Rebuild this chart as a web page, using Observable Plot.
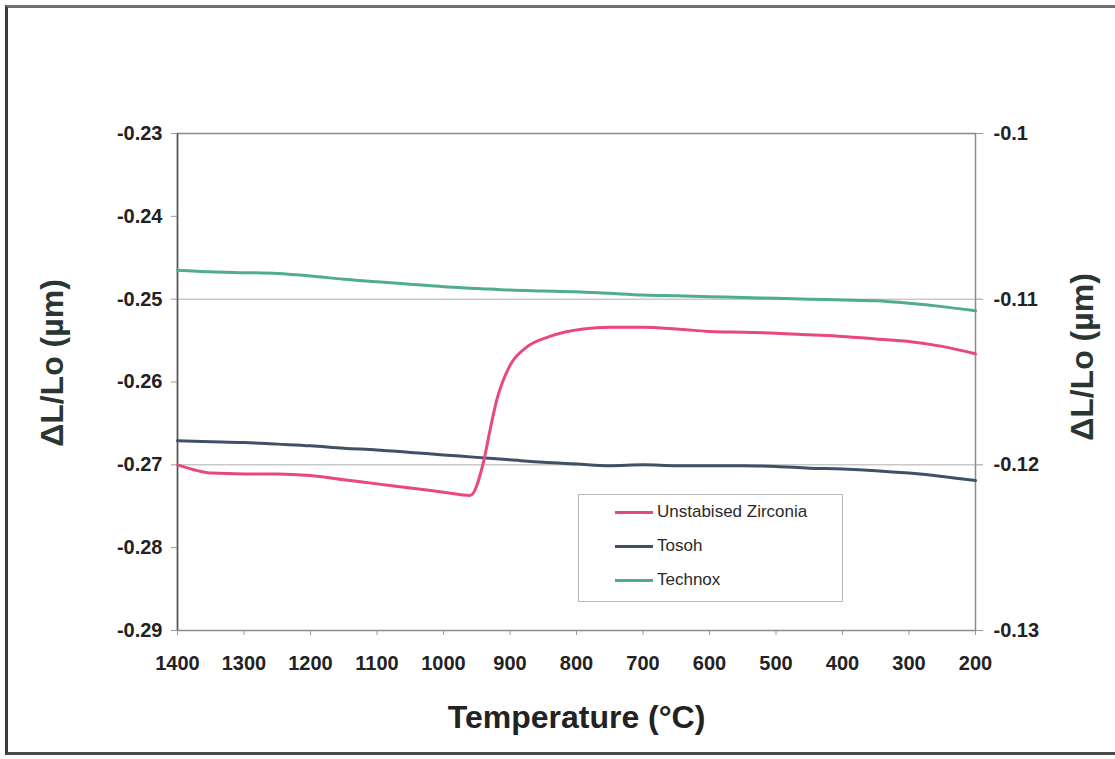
<!DOCTYPE html>
<html>
<head>
<meta charset="utf-8">
<script src="https://cdn.jsdelivr.net/npm/d3@7"></script>
<script src="https://cdn.jsdelivr.net/npm/@observablehq/plot@0.6"></script>
<style>
  html, body { margin: 0; padding: 0; background: #fff; }
  #wrap { position: relative; width: 1115px; height: 759px; overflow: hidden; font-family: "Liberation Sans", Arial, sans-serif; }
  #frame { position: absolute; left: 5px; top: 5px; width: 1120px; height: 750px; border-left: 3px solid #3a3a3a; border-top: 3px solid #6b7278; border-bottom: 3px solid #4a4a4a; box-sizing: border-box; pointer-events: none; }
  #chart { position: absolute; left: 0; top: 0; }
  #legend { position: absolute; left: 578px; top: 494px; width: 265px; height: 108px; border: 1px solid #b8b8b8; box-sizing: border-box; background: #fff; }
  .item { position: absolute; left: 36px; height: 20px; display: flex; align-items: center; font-size: 17px; color: #2a2a2a; }
  .swatch { width: 38px; height: 3px; margin-right: 4px; }
</style>
</head>
<body>
<div id="wrap">
  <div id="chart"></div>
  <div id="legend"></div>
  <div id="frame"></div>
</div>
<script>
// Temperatures (°C) for Tosoh and Technox
const temps = [1400,1350,1300,1250,1200,1150,1100,1050,1000,950,900,850,800,750,700,650,600,550,500,450,400,350,300,250,200];
const tosoh = [-0.2671,-0.2672,-0.2673,-0.2675,-0.2677,-0.2680,-0.2682,-0.2685,-0.2688,-0.2691,-0.2694,-0.2697,-0.2699,-0.2701,-0.2700,-0.2701,-0.2701,-0.2701,-0.2702,-0.2704,-0.2705,-0.2707,-0.2710,-0.2714,-0.2719];
const technox = [-0.2465,-0.2467,-0.2468,-0.2469,-0.2472,-0.2476,-0.2479,-0.2482,-0.2485,-0.2487,-0.2489,-0.2490,-0.2491,-0.2493,-0.2495,-0.2496,-0.2497,-0.2498,-0.2499,-0.2500,-0.2501,-0.2502,-0.2505,-0.2509,-0.2514];
// Unstabilised zirconia
const zirconiaTemps = [1400,1370,1350,1300,1250,1200,1150,1100,1050,1000,960,940,930,920,900,875,840,790,750,700,650,600,550,500,450,400,350,300,250,200];
const zirconia = [-0.2700,-0.2707,-0.2710,-0.2711,-0.2711,-0.2713,-0.2718,-0.2723,-0.2728,-0.2733,-0.2737,-0.2697,-0.2658,-0.2622,-0.2580,-0.2558,-0.2545,-0.2536,-0.2534,-0.2534,-0.2536,-0.2539,-0.2540,-0.2541,-0.2543,-0.2545,-0.2548,-0.2551,-0.2557,-0.2566];

const seriesNames = ["Unstabised Zirconia", "Tosoh", "Technox"];
const seriesColors = ["#e8487e", "#3f5068", "#4fae89"];

const xTicks = [1400,1300,1200,1100,1000,900,800,700,600,500,400,300,200];
const leftTicks = [-0.23,-0.24,-0.25,-0.26,-0.27,-0.28,-0.29];
const rightTicks = [-0.1,-0.11,-0.12,-0.13];
const gridRight = [-0.11,-0.12];

const xLabel = "Temperature (°C)";
const yLabel = "ΔL/Lo (µm)";

// right axis maps linearly onto left axis: -0.10 -> -0.23, -0.13 -> -0.29
const toLeft = r => -0.23 + (r + 0.1) * 2;
const rightMap = new Map(rightTicks.map(r => [toLeft(r).toFixed(4), String(r)]));

const rows = (ts, vs) => ts.map((t, i) => ({t, v: vs[i]}));
const dataZ = rows(zirconiaTemps, zirconia);
const dataTo = rows(temps, tosoh);
const dataTe = rows(temps, technox);

const fontFamily = "Liberation Sans, Arial, sans-serif";

const chart = Plot.plot({
  width: 1115,
  height: 759,
  marginLeft: 177,
  marginRight: 140,
  marginTop: 133,
  marginBottom: 129,
  style: {fontFamily, background: "transparent", overflow: "visible"},
  x: {domain: [1400, 200]},
  y: {domain: [-0.29, -0.23]},
  marks: [
    Plot.ruleY(gridRight.map(toLeft), {stroke: "#c9c9c9", strokeWidth: 1.5}),
    Plot.frame({stroke: "#8a8a8a", strokeWidth: 1.5}),
    Plot.ruleX([1400], {stroke: "#555", strokeWidth: 1.5}),
    Plot.line(dataTe, {x: "t", y: "v", stroke: seriesColors[2], strokeWidth: 3, curve: "monotone-x"}),
    Plot.line(dataTo, {x: "t", y: "v", stroke: seriesColors[1], strokeWidth: 3, curve: "monotone-x"}),
    Plot.line(dataZ, {x: "t", y: "v", stroke: seriesColors[0], strokeWidth: 3, curve: "monotone-x"}),
    Plot.axisY(leftTicks, {anchor: "left", tickSize: 6, tickPadding: 9, tickFormat: d => String(d), fontSize: 20, fontWeight: "bold", stroke: "#999", fill: "#222", label: null}),
    Plot.axisY(rightTicks.map(toLeft), {anchor: "right", tickSize: 7, tickPadding: 11, tickFormat: d => rightMap.get(d.toFixed(4)), fontSize: 20, fontWeight: "bold", stroke: "#999", fill: "#222", label: null}),
    Plot.axisX(xTicks, {anchor: "bottom", tickSize: 5, tickPadding: 20, tickFormat: d => String(d), fontSize: 20, fontWeight: "bold", stroke: "#999", fill: "#222", label: null}),
    Plot.text([yLabel], {frameAnchor: "left", textAnchor: "middle", rotate: -90, dx: -125, dy: -19, fontSize: 32, fontWeight: "bold", fill: "#2b3631"}),
    Plot.text([yLabel], {frameAnchor: "right", textAnchor: "middle", rotate: -90, dx: 107, dy: -25, fontSize: 32, fontWeight: "bold", fill: "#2b3631"}),
    Plot.text([xLabel], {frameAnchor: "bottom", dy: 97, fontSize: 32, fontWeight: "bold", fill: "#222"})
  ]
});
document.getElementById("chart").appendChild(chart);

// Legend
const legend = document.getElementById("legend");
const itemTops = [7, 41, 75];
seriesNames.forEach((name, i) => {
  const item = document.createElement("div");
  item.className = "item";
  item.style.top = itemTops[i] + "px";
  const sw = document.createElement("span");
  sw.className = "swatch";
  sw.style.background = seriesColors[i];
  const tx = document.createElement("span");
  tx.textContent = name;
  item.appendChild(sw);
  item.appendChild(tx);
  legend.appendChild(item);
});
</script>
</body>
</html>
